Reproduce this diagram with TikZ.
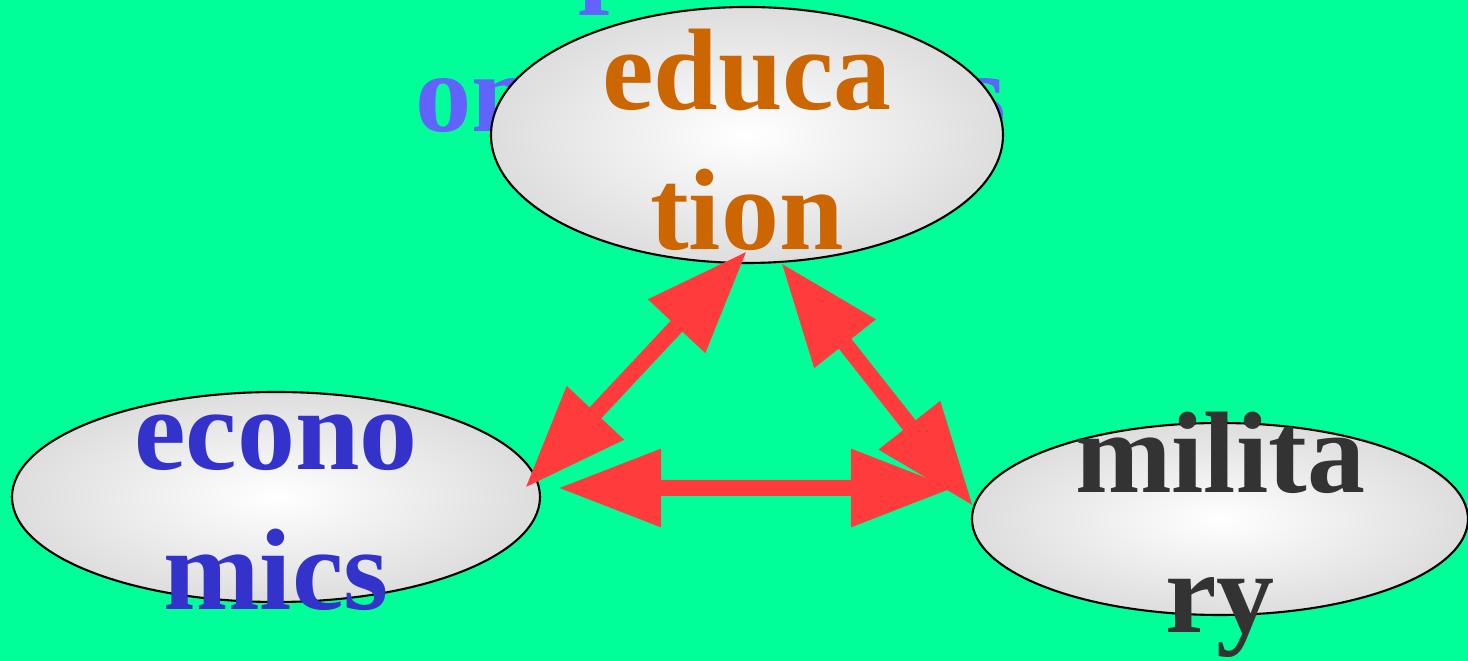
\documentclass[tikz,border=0pt]{standalone}
\usepackage{fontspec}
\setmainfont{Liberation Serif}
\usepackage{tikz}
\usetikzlibrary{shapes.geometric,calc,arrows.meta}
\definecolor{bggreen}{RGB}{0,255,153}
\definecolor{titleblue}{RGB}{98,98,255}
\definecolor{educol}{RGB}{204,102,0}
\definecolor{econcol}{RGB}{51,51,204}
\definecolor{milcol}{RGB}{51,51,51}
\definecolor{arrowred}{RGB}{255,59,59}
\pgfdeclareradialshading{grayball}{\pgfpoint{0bp}{0bp}}{color(0bp)=(white); color(36bp)=(black!19); color(100bp)=(black!19)}

\begin{document}
\begin{tikzpicture}[
    ball/.style={ellipse, draw=black, line width=0.6pt, shading=grayball, inner sep=0pt},
    word/.style={font=\fontsize{33}{40}\selectfont\bfseries, align=center, anchor=base, inner sep=0pt},
    biarrow/.style={draw=arrowred, line width=1.6mm,
      {Triangle[length=10.3mm,width=7.4mm]}-{Triangle[length=10.3mm,width=7.4mm]}}
  ]
  % Background (1468 x 661 px -> 14.68 x 6.61 cm)
  \useasboundingbox (0,0) rectangle (14.68,6.61);
  \fill[bggreen] (0,0) rectangle (14.68,6.61);

  % Title, mostly hidden (base = last line)
  \node[font=\fontsize{32}{40}\selectfont\bfseries, text=titleblue, align=left,
    anchor=base west, inner sep=0pt] (title) at (4.15,5.29) {\hspace{2.5mm}Impacts\\on countries};

  % Ellipses
  \node[ball, minimum width=5.12cm, minimum height=2.56cm] (edu) at (7.47,5.26) {};
  \node[ball, minimum width=5.28cm, minimum height=2.10cm] (econ) at (2.76,1.64) {};
  \node[ball, minimum width=4.96cm, minimum height=1.92cm] (mil) at (12.20,1.42) {};

  % Labels
  \node[word, text=educol] (edutxt) at ([yshift=-11.5mm]edu.center) {educa\\tion};
  \node[word, text=econcol] (econtxt) at ([yshift=-11.3mm]econ.center) {econo\\mics};
  \node[word, text=milcol] (miltxt) at ([yshift=-11.4mm]mil.center) {milita\\ry};

  % Double arrows
  \draw[biarrow] ($(edu.south)+(0,0.13)$) -- ($(econ.east)+(-0.16,0.09)$);
  \draw[biarrow] (edu.285) -- (mil.177);
  \draw[biarrow] ($(econ.east)+(0.17,0.09)$) -- ($(mil.west)+(-0.17,0.31)$);
\end{tikzpicture}
\end{document}
